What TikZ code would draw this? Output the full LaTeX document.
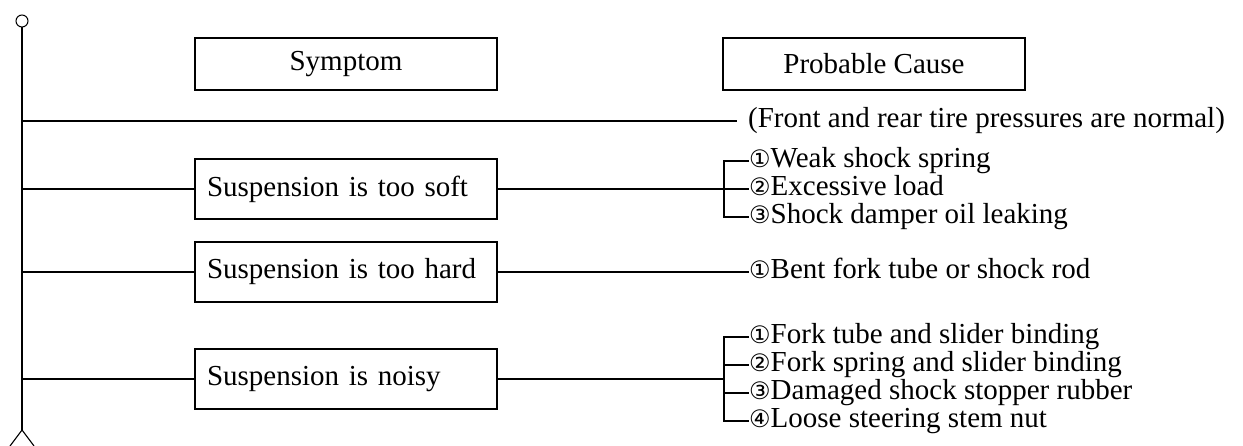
\documentclass[tikz,border=0pt]{standalone}
\usepackage{fontspec}
\setmainfont{Liberation Serif}
\newfontfamily\circfont{DejaVu Sans}
\newcommand{\cnum}[1]{{\circfont\fontsize{24}{24}\selectfont #1}}
\begin{document}
\begin{tikzpicture}[x=1pt,y=-1pt,
  every node/.style={font=\fontsize{29}{29}\selectfont},
  ln/.style={line width=1.1pt},
  hbox/.style={draw,line width=1.2pt,minimum width=302pt,minimum height=52pt,inner sep=0pt},
  sbox/.style={draw,line width=1.2pt,minimum width=302pt,minimum height=60pt,text width=278pt,align=left,inner sep=0pt},
  item/.style={anchor=west,inner sep=0pt,text height=20pt,text depth=7pt}]
\useasboundingbox (0,0) rectangle (1243,446);
% spine
\node[circle,draw,line width=1pt,minimum size=12pt,inner sep=0pt] (top) at (22,21) {};
\coordinate (bot) at (22,430);
\coordinate (fl) at (10,446);
\coordinate (fr) at (34,446);
\draw[ln] (top.south) -- (bot);
\draw[ln] (fl) -- (bot) -- (fr);
% headers
\node[hbox] (sym) at (346,64) {Symptom};
\node[hbox] (cau) at (874,64) {Probable Cause};
% tire pressure
\coordinate (s0) at (22,121);
\node[item] (note) at (748,121) {(Front and rear tire pressures are normal)};
\coordinate (n0) at (737,121);
\draw[ln] (s0) -- (n0);
% symptom 1
\coordinate (s1) at (22,189);
\node[sbox] (b1) at (346,189) {Suspension is too soft};
\coordinate (j1) at (724,189);
\node[item] (c11) at (749,161) {\cnum{①}Weak shock spring};
\node[item] (c12) at (749,189) {\cnum{②}Excessive load};
\node[item] (c13) at (749,217) {\cnum{③}Shock damper oil leaking};
\draw[ln] (s1) -- (b1.west);
\draw[ln] (b1.east) -- (c12.west);
\draw[ln] (c11.west) -| (j1) |- (c13.west);
% symptom 2
\coordinate (s2) at (22,272);
\node[sbox] (b2) at (346,272) {Suspension is too hard};
\node[item] (c21) at (749,272) {\cnum{①}Bent fork tube or shock rod};
\draw[ln] (s2) -- (b2.west);
\draw[ln] (b2.east) -- (c21.west);
% symptom 3
\coordinate (s3) at (22,379);
\node[sbox] (b3) at (346,379) {Suspension is noisy};
\coordinate (j3) at (724,379);
\node[item] (c31) at (749,337) {\cnum{①}Fork tube and slider binding};
\node[item] (c32) at (749,365) {\cnum{②}Fork spring and slider binding};
\node[item] (c33) at (749,393) {\cnum{③}Damaged shock stopper rubber};
\node[item] (c34) at (749,421) {\cnum{④}Loose steering stem nut};
\draw[ln] (s3) -- (b3.west);
\draw[ln] (b3.east) -- (j3);
\draw[ln] (c31.west) -| (j3) |- (c34.west);
\draw[ln] (j3 |- c32.west) -- (c32.west);
\draw[ln] (j3 |- c33.west) -- (c33.west);
\end{tikzpicture}
\end{document}
